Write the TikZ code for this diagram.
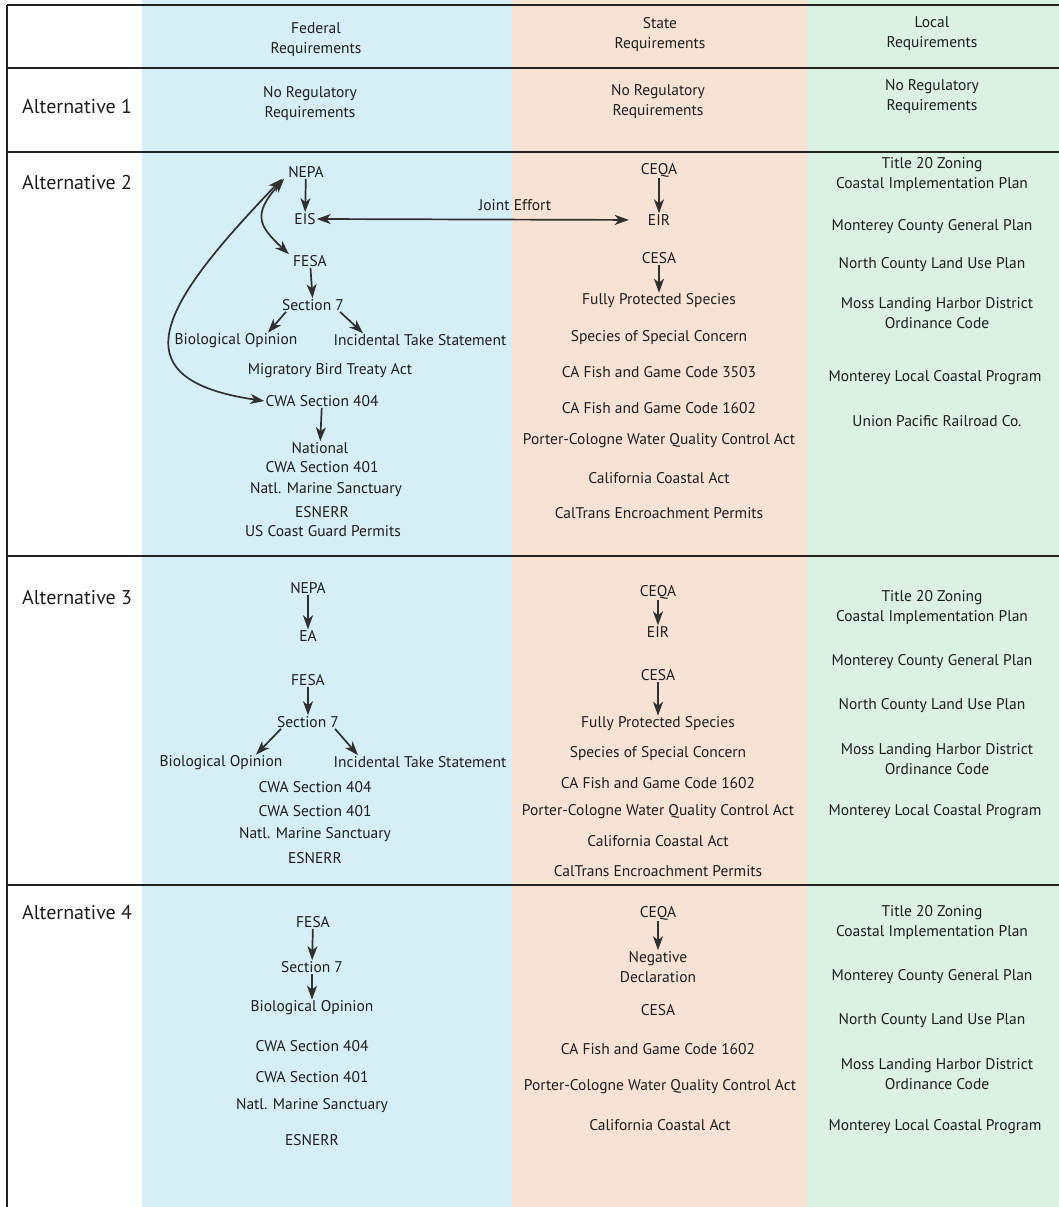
\documentclass[tikz,border=0pt]{standalone}
\usepackage{fontspec}
\setmainfont{PT Sans}
\usetikzlibrary{arrows.meta}
\definecolor{fedbg}{HTML}{D6EEF6}
\definecolor{statebg}{HTML}{F8E2D4}
\definecolor{localbg}{HTML}{DAF1E4}
\definecolor{txtc}{HTML}{1E1E1E}
\definecolor{arrc}{HTML}{303030}
\definecolor{rulec}{HTML}{222222}
\newcommand{\bodyfont}{\fontsize{15.5}{20}\selectfont}
\newcommand{\altfont}{\fontsize{20}{22}\selectfont}
\tikzset{
  tipshape/.tip={Stealth[length=14pt,width=10pt,inset=4pt]},
  txt/.style={font=\bodyfont, text=txtc, inner sep=1pt, align=center},
  altlabel/.style={font=\altfont, text=txtc, anchor=west, inner sep=0pt},
  arr/.style={draw=arrc, line width=1.7pt, -tipshape},
  dbl/.style={draw=arrc, line width=1.7pt, tipshape-tipshape},
  rule/.style={draw=rulec, line width=1.5pt}
}
\begin{document}
\begin{tikzpicture}[x=1pt,y=-1pt]
\useasboundingbox (0,0) rectangle (1059,1207);
% column shading
\fill[fedbg] (142,0) rectangle (512,1207);
\fill[statebg] (512,0) rectangle (807,1207);
\fill[localbg] (807,0) rectangle (1059,1207);
% table rules
\draw[rule] (7,5) -- (1059,5);
\draw[rule] (7,68) -- (1059,68);
\draw[rule] (7,152) -- (1059,152);
\draw[rule] (7,556) -- (1059,556);
\draw[rule] (7,885) -- (1059,885);
\draw[rule] (7,5) -- (7,1207);

% header row
\node[txt] (fedh) at (316,40) {Federal\\Requirements};
\node[txt] (stateh) at (660,35) {State\\Requirements};
\node[txt] (localh) at (932,34) {Local\\Requirements};

% Alternative 1
\node[altlabel] (alt1) at (22,106) {Alternative 1};
\node[txt] (fed1) at (310,104) {No Regulatory\\Requirements};
\node[txt] (st1) at (658,102) {No Regulatory\\Requirements};
\node[txt] (lo1) at (932,97) {No Regulatory\\Requirements};

% Alternative 2 -- federal
\node[altlabel] (alt2) at (22,182) {Alternative 2};
\node[txt] (nepa2) at (306,172) {NEPA};
\node[txt] (eis2) at (305,219) {EIS};
\node[txt] (fesa2) at (310,261) {FESA};
\node[txt] (sec72) at (313,305) {Section 7};
\node[txt] (bio2) at (236,341) {Biological Opinion};
\node[txt] (its2) at (420,340) {Incidental Take Statement};
\node[txt] (mbta2) at (330,371) {Migratory Bird Treaty Act};
\node[txt] (cwa4042) at (322,401) {CWA Section 404};
\node[txt] (natl2) at (320,448) {National};
\node[txt] (cwa4012) at (322,467) {CWA Section 401};
\node[txt] (nms2) at (326,490) {Natl. Marine Sanctuary};
\node[txt] (esnerr2) at (322,512) {ESNERR};
\node[txt] (uscg2) at (323,531) {US Coast Guard Permits};
\node[txt] (joint) at (515,205) {Joint Effort};
% Alternative 2 -- state
\node[txt] (ceqa2) at (659,170) {CEQA};
\node[txt] (eir2) at (659,220) {EIR};
\node[txt] (cesa2) at (659,258) {CESA};
\node[txt] (fps2) at (659,301) {Fully Protected Species};
\node[txt] (ssc2) at (659,338) {Species of Special Concern};
\node[txt] (fg35032) at (659,372) {CA Fish and Game Code 3503};
\node[txt] (fg16022) at (659,408) {CA Fish and Game Code 1602};
\node[txt] (pc2) at (659,441) {Porter-Cologne Water Quality Control Act};
\node[txt] (cca2) at (659,478) {California Coastal Act};
\node[txt] (ct2) at (659,513) {CalTrans Encroachment Permits};
% Alternative 2 -- local
\node[txt] (t202) at (932,175) {Title 20 Zoning\\Coastal Implementation Plan};
\node[txt] (mcgp2) at (932,227) {Monterey County General Plan};
\node[txt] (nclup2) at (932,265) {North County Land Use Plan};
\node[txt] (mlh2) at (937,313) {Moss Landing Harbor District\\Ordinance Code};
\node[txt] (mlcp2) at (935,378) {Monterey Local Coastal Program};
\node[txt] (up2) at (937,421) {Union Pacific Railroad Co.};
% Alternative 2 -- connectors
\draw[arr] (nepa2) -- (eis2);
\draw[dbl] ([xshift=-3]nepa2.south west) .. controls +(-32,36) and +(-30,-28) .. ([xshift=-3]fesa2.north west);
\draw[dbl] ([xshift=-5]nepa2.south west) .. controls +(-120,125) and +(-150,-22) .. (cwa4042.west);
\draw[arr] (fesa2) -- (sec72);
\draw[arr] ([xshift=-27]sec72.south) -- ([xshift=32]bio2.north);
\draw[arr] ([xshift=27]sec72.south) -- ([xshift=-57]its2.north);
\draw[arr] (cwa4042) -- (natl2);
\draw[dbl, shorten >=18pt] (eis2.east) -- (eir2.west);
\draw[arr] (ceqa2) -- (eir2);
\draw[arr] (cesa2) -- (fps2);

% Alternative 3 -- federal
\node[altlabel] (alt3) at (22,598) {Alternative 3};
\node[txt] (nepa3) at (308,588) {NEPA};
\node[txt] (ea3) at (308,636) {EA};
\node[txt] (fesa3) at (308,680) {FESA};
\node[txt] (sec73) at (308,722) {Section 7};
\node[txt] (bio3) at (221,763) {Biological Opinion};
\node[txt] (its3) at (420,762) {Incidental Take Statement};
\node[txt] (cwa4043) at (315,787) {CWA Section 404};
\node[txt] (cwa4013) at (315,811) {CWA Section 401};
\node[txt] (nms3) at (315,835) {Natl. Marine Sanctuary};
\node[txt] (esnerr3) at (315,858) {ESNERR};
% Alternative 3 -- state
\node[txt] (ceqa3) at (658,592) {CEQA};
\node[txt] (eir3) at (658,632) {EIR};
\node[txt] (cesa3) at (658,675) {CESA};
\node[txt] (fps3) at (658,724) {Fully Protected Species};
\node[txt] (ssc3) at (658,754) {Species of Special Concern};
\node[txt] (fg16023) at (658,783) {CA Fish and Game Code 1602};
\node[txt] (pc3) at (658,812) {Porter-Cologne Water Quality Control Act};
\node[txt] (cca3) at (658,841) {California Coastal Act};
\node[txt] (ct3) at (658,871) {CalTrans Encroachment Permits};
% Alternative 3 -- local
\node[txt] (t203) at (932,608) {Title 20 Zoning\\Coastal Implementation Plan};
\node[txt] (mcgp3) at (932,662) {Monterey County General Plan};
\node[txt] (nclup3) at (932,706) {North County Land Use Plan};
\node[txt] (mlh3) at (937,759) {Moss Landing Harbor District\\Ordinance Code};
\node[txt] (mlcp3) at (935,812) {Monterey Local Coastal Program};
% Alternative 3 -- connectors
\draw[arr] (nepa3) -- (ea3);
\draw[arr] (fesa3) -- (sec73);
\draw[arr] ([xshift=-27]sec73.south) -- ([xshift=35]bio3.north);
\draw[arr] ([xshift=27]sec73.south) -- ([xshift=-62]its3.north);
\draw[arr] (ceqa3) -- (eir3);
\draw[arr] (cesa3) -- (fps3);

% Alternative 4 -- federal
\node[altlabel] (alt4) at (22,912) {Alternative 4};
\node[txt] (fesa4) at (313,922) {FESA};
\node[txt] (sec74) at (312,967) {Section 7};
\node[txt] (bio4) at (312,1008) {Biological Opinion};
\node[txt] (cwa4044) at (312,1046) {CWA Section 404};
\node[txt] (cwa4014) at (312,1077) {CWA Section 401};
\node[txt] (nms4) at (312,1106) {Natl. Marine Sanctuary};
\node[txt] (esnerr4) at (312,1140) {ESNERR};
% Alternative 4 -- state
\node[txt] (ceqa4) at (658,913) {CEQA};
\node[txt] (nd4) at (658,967) {Negative\\Declaration};
\node[txt] (cesa4) at (658,1010) {CESA};
\node[txt] (fg16024) at (658,1049) {CA Fish and Game Code 1602};
\node[txt] (pc4) at (660,1087) {Porter-Cologne Water Quality Control Act};
\node[txt] (cca4) at (660,1125) {California Coastal Act};
% Alternative 4 -- local
\node[txt] (t204) at (932,923) {Title 20 Zoning\\Coastal Implementation Plan};
\node[txt] (mcgp4) at (932,977) {Monterey County General Plan};
\node[txt] (nclup4) at (932,1021) {North County Land Use Plan};
\node[txt] (mlh4) at (937,1074) {Moss Landing Harbor District\\Ordinance Code};
\node[txt] (mlcp4) at (935,1127) {Monterey Local Coastal Program};
% Alternative 4 -- connectors
\draw[arr] (fesa4) -- (sec74);
\draw[arr] (sec74) -- (bio4);
\draw[arr] (ceqa4) -- (nd4);
\end{tikzpicture}
\end{document}
